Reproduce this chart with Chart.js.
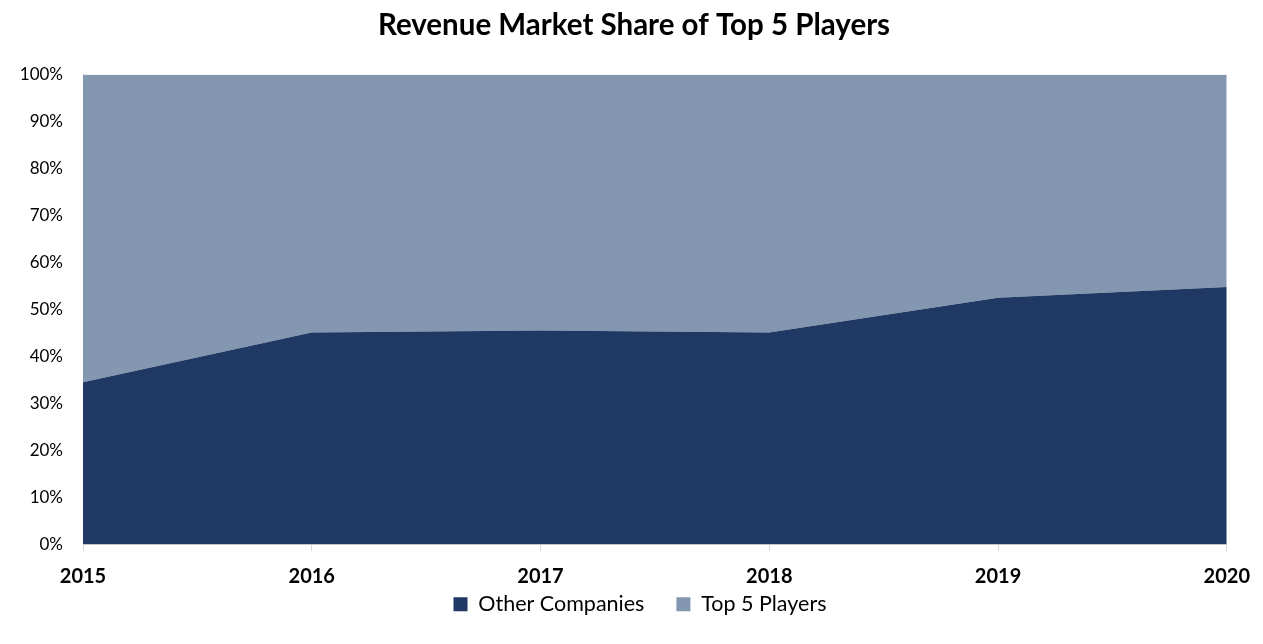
<!DOCTYPE html>
<html>
<head>
<meta charset="utf-8">
<script src="https://cdn.jsdelivr.net/npm/chart.js@4"></script>
<style>
  html, body { margin: 0; padding: 0; background: #fff; }
  #box { width: 1263px; height: 644px; }
</style>
</head>
<body>
<div id="box"><canvas id="chart"></canvas></div>
<script>
const anos = ['2015', '2016', '2017', '2018', '2019', '2020'];
const outrasEmpresas = [34.5, 45.1, 45.5, 45.1, 52.5, 54.8];
const top5Jogadores = [65.5, 54.9, 54.5, 54.9, 47.5, 45.2];
const ticksY = [0, 10, 20, 30, 40, 50, 60, 70, 80, 90, 100];

const fonte = 'Lato, "Open Sans", sans-serif';
const folga = 40; // parte do espaço de cima da legenda que fica para os rótulos do eixo x

// A legenda usa o mesmo padding na vertical e entre os itens; aqui tiro parte
// do espaço de cima e centralizo título e legenda um pouco mais à direita
const ajusteLayout = {
    id: 'ajusteLayout',
    beforeLayout(chart) {
        const leg = chart.legend;
        if (leg && !leg._ajustado) {
            const fitOriginal = leg.fit.bind(leg);
            leg.fit = function () { fitOriginal(); this.height -= folga; };
            leg._ajustado = true;
        }
    },
    afterLayout(chart) {
        chart.legend.top -= folga;
        chart.legend.height += folga;
        chart.titleBlock.left += 15;
        chart.titleBlock.right += 15;
        chart.legend.left += 21;
        chart.legend.right += 21;
    }
};

new Chart(document.getElementById('chart'), {
    type: 'line',
    data: {
        labels: anos,
        datasets: [
            {
                label: 'Other Companies',
                data: outrasEmpresas,
                backgroundColor: '#203864',
                borderColor: '#203864',
                borderWidth: 0,
                fill: 'origin',
                pointRadius: 0,
                tension: 0
            },
            {
                label: 'Top 5 Players',
                data: top5Jogadores,
                backgroundColor: '#8497b0',
                borderColor: '#8497b0',
                borderWidth: 0,
                fill: '-1',
                pointRadius: 0,
                tension: 0
            }
        ]
    },
    options: {
        responsive: true,
        maintainAspectRatio: false,
        animation: false,
        layout: { padding: { left: 10, right: 35, top: 0, bottom: 19 } },
        plugins: {
            title: {
                display: true,
                text: 'Revenue Market Share of Top 5 Players',
                color: '#000',
                font: { family: fonte, size: 29.5, weight: 'bold' },
                padding: { top: 8, bottom: 31 }
            },
            legend: {
                position: 'bottom',
                labels: {
                    color: '#000',
                    font: { family: fonte, size: 21.5 },
                    boxWidth: 14,
                    boxHeight: 14,
                    padding: 32
                }
            },
            tooltip: { enabled: false }
        },
        scales: {
            x: {
                offset: false,
                grid: {
                    drawOnChartArea: false,
                    drawTicks: true,
                    tickLength: 7,
                    color: '#d9d9d9'
                },
                border: { color: '#d9d9d9' },
                ticks: {
                    color: '#000',
                    font: { family: fonte, size: 20, weight: 'bold' },
                    maxRotation: 0,
                    padding: 13
                }
            },
            y: {
                stacked: true,
                min: 0,
                max: 100,
                afterBuildTicks: eixo => { eixo.ticks = ticksY.map(v => ({ value: v })); },
                grid: { display: false, drawTicks: false },
                border: { color: '#d9d9d9' },
                ticks: {
                    color: '#000',
                    font: { family: fonte, size: 17 },
                    padding: 20,
                    callback: v => v + '%'
                },
                afterFit: eixo => { eixo.width = 73; }
            }
        }
    },
    plugins: [ajusteLayout]
});
</script>
</body>
</html>
